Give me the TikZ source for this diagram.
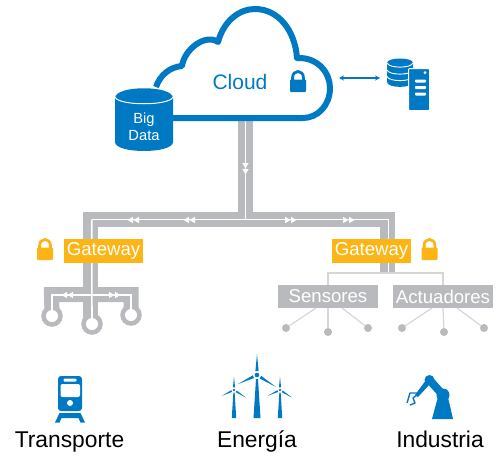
\documentclass[tikz,border=0pt]{standalone}
\usepackage{fontspec}
\setmainfont{Liberation Sans}
\usetikzlibrary{arrows.meta}
\definecolor{cblue}{HTML}{0079C5}
\definecolor{cgray}{HTML}{B9BABD}
\definecolor{cyell}{HTML}{FDB515}
\definecolor{cthin}{HTML}{D6D6D7}
\newcommand{\fs}[1]{\fontsize{#1}{#1}\selectfont}
\newcommand{\lockicon}[2]{%
  \begin{scope}[shift={(#1,#2)}]
    \draw[cs lock] (2.6,10) -- (2.6,7.5) .. controls (2.6,-0.5) and (13.4,-0.5) .. (13.4,7.5) -- (13.4,10);
    \fill[rounded corners=0.8pt] (0,9.5) rectangle (16,22);
  \end{scope}}
\newcommand{\railarrow}[3]{% x, y, direction: 1 right, -1 left
  \begin{scope}[shift={(#1,#2)},xscale=#3]
    \fill[white] (-6,-3.2) -- (-.5,0) -- (-6,3.2) -- cycle;
    \fill[white] (0,-3.2) -- (5.5,0) -- (0,3.2) -- cycle;
  \end{scope}}
\newcommand{\turbine}[4]{% x, y, scale, tower bottom
  \begin{scope}[shift={(#1,#2)},scale=#3,fill=cblue]
    \fill (0,0) circle (2.3);
    \fill (-1.6,-4) -- (0,-21) -- (1.6,-4) -- cycle;
    \fill (-3,3) -- (-19,9) -- (-4.3,.35) -- cycle;
    \fill (2.6,3.4) -- (19,12) -- (4.2,.83) -- cycle;
    \fill (-1,4) -- (-3.5,#4) -- (3.5,#4) -- (1,4) -- cycle;
  \end{scope}}
\tikzset{
  x=1pt,y=-1pt,
  cs lock/.style={line width=2.8pt},
  rail/.style={draw=cgray,line width=15pt,line join=miter},
  wire/.style={draw=white,line width=1.6pt},
  gate/.style={fill=cyell,text=white,inner sep=0pt,minimum width=79pt,minimum height=24pt,font=\fs{18.6}},
  devbox/.style={fill=cgray,text=white,inner sep=0pt,minimum width=100pt,minimum height=23pt,font=\fs{18.6}},
  thin/.style={draw=cthin,line width=1.2pt},
  dot/.style={circle,fill=cgray,inner sep=0pt,minimum size=8pt},
  term/.style={circle,draw=cgray,fill=white,line width=5pt,inner sep=0pt,minimum size=16.5pt},
  lbl/.style={text=black,inner sep=0pt,anchor=base,font=\fs{22.8}},
}
\begin{document}
\begin{tikzpicture}
\useasboundingbox (0,0) rectangle (500,460);
% named points of the bus
\coordinate (top) at (245.5,118);
\coordinate (hub) at (245.5,219.5);
\coordinate (gl) at (90,219.5);
\coordinate (gr) at (387.5,219.5);
\coordinate (gre) at (387.5,273);
\coordinate (bus) at (90,294.5);
\coordinate (busl) at (51.5,294.5);
\coordinate (busr) at (131,294.5);
\coordinate (t1c) at (52,316);
\coordinate (t2c) at (92,324);
\coordinate (t3c) at (131,315);
% gray rails
\draw[rail] (top) -- (hub);
\draw[rail] (t1c) -- (busl) -- (busr) -- (t3c);
\draw[rail] (t2c -| bus) -- (gl) -- (gr) -- (gre);
\node[term] (t1) at (t1c) {};
\node[term] (t2) at (t2c) {};
\node[term] (t3) at (t3c) {};
% white lines
\draw[wire] (top) -- (hub);
\draw[wire] (91.7,219.5) -- (388.5,219.5) -- (388.5,273);
\draw[wire] (91.7,219.5) -- (t2.center);
\draw[wire] (t1.center) -- (52,295) -- (131,295) -- (t3.center);
\fill[white] (t1c) circle (6);
\fill[white] (t2c) circle (6);
\fill[white] (t3c) circle (6);
\railarrow{133}{220}{-1}
\railarrow{189}{220}{-1}
\railarrow{291}{220}{1}
\railarrow{349}{220}{1}
\railarrow{67}{295}{-1}
\railarrow{115}{295}{1}
\begin{scope}[shift={(245.5,169)},rotate=-90]
  \railarrow{0}{0}{1}
\end{scope}
% devices
\node[devbox] (sens) at (328,296.5) {Sensores};
\node[devbox] (act) at (443,296.5) {Actuadores};
\node[gate] (gwl) at (103.5,251) {Gateway};
\node[gate] (gwr) at (371.5,250.5) {Gateway};
\draw[thin] (sens.north) -- (sens.north |- gre) -- (act.north |- gre) -- (act.north);
\node[dot] (s1) at (286,328) {};
\node[dot] (s2) at (328,332) {};
\node[dot] (s3) at (368,328) {};
\node[dot] (a1) at (402,328) {};
\node[dot] (a2) at (444,332) {};
\node[dot] (a3) at (484,328) {};
\draw[thin] (316,308) -- (s1);
\draw[thin] (sens.south) -- (s2);
\draw[thin] (342,308) -- (s3);
\draw[thin] (432,308) -- (a1);
\draw[thin] (act.south) -- (a2);
\draw[thin] (457,308) -- (a3);
% locks
\begin{scope}[fill=cyell,draw=cyell]
  \lockicon{37}{238}
  \lockicon{421.5}{238}
\end{scope}
\begin{scope}[fill=cblue,draw=cblue]
  \lockicon{290}{70}
\end{scope}
% cloud
\draw[cblue,line width=6pt,line join=round]
  (156,87) .. controls (160,75) and (170,67) .. (182,66)
  .. controls (184,50) and (205,33) .. (218,42)
  .. controls (224,20) and (240,9) .. (255,9)
  .. controls (278,9) and (295,30) .. (297,58)
  .. controls (318,57) and (330,73) .. (330,88)
  .. controls (330,105) and (318,118) .. (303,118) -- (170,118);
\node[text=cblue,inner sep=0pt,font=\fs{21}] (cloud) at (240,82) {Cloud};
% big data
\fill[cblue] (115,98) .. controls (115,85) and (173,85) .. (173,98) -- (173,142)
  .. controls (173,154) and (115,154) .. (115,142) -- cycle;
\draw[white,line width=1pt] (115,97) .. controls (118,106) and (170,106) .. (173,97);
\node[text=white,align=center,inner sep=0pt,font=\fs{14.7}] (bd) at (144,127) {Big\\[2.5pt]Data};
% link to the server
\coordinate (la) at (339,78);
\coordinate (lb) at (380,78);
\draw[cblue,line width=1.1pt,{Stealth[length=5pt,width=5pt]}-{Stealth[length=5pt,width=5pt]}] (la) -- (lb);
% database and server
\fill[cblue] (387,63) .. controls (387,57) and (413,57) .. (413,63) -- (413,82)
  .. controls (413,88.5) and (387,88.5) .. (387,82) -- cycle;
\draw[white,line width=.9pt] (387,63) .. controls (389,68.5) and (411,68.5) .. (413,63);
\draw[white,line width=.9pt] (387,70) .. controls (389,75.5) and (411,75.5) .. (413,70);
\draw[white,line width=.9pt] (387,76.5) .. controls (389,82) and (411,82) .. (413,76.5);
\fill[cblue,draw=white,line width=1pt,rounded corners=1pt] (408.5,68.5) rectangle (429.5,110.5);
\fill[white,rounded corners=.8pt] (415,79.5) rectangle (426,82.5);
\fill[white,rounded corners=.8pt] (415,86) rectangle (426,89);
\fill[white,rounded corners=.8pt] (415,92.5) rectangle (426,95.5);
\fill[white] (425,72.7) circle (1.5);
% train
\fill[cblue,rounded corners=3pt] (58,376) rectangle (82,411);
\fill[white,rounded corners=2pt] (60.5,384) rectangle (80,397);
\fill[white,rounded corners=1pt] (63.5,378.5) rectangle (76.5,381.5);
\fill[white] (70,403) circle (3);
\fill[cblue] (59.5,413) -- (80.5,413) -- (85,422.5) -- (80.5,422.5) -- (78.5,418) -- (61.5,418) -- (59.5,422.5) -- (55,422.5) -- cycle;
% turbines
\turbine{234}{390}{.64}{44}
\turbine{280}{390}{.64}{44}
\turbine{257}{375}{1}{43}
% robot
\fill[cblue] (432,419) -- (453,419) -- (447,393) -- (439,393) -- cycle;
\fill[cblue] (443,395) circle (6.5);
\fill[cblue] (429.5,380) circle (5);
\draw[cblue,line width=8pt] (429.5,380) -- (443,395);
\fill[cblue] (426,380) -- (431,383) -- (418,397) -- (415,395) -- cycle;
\draw[cblue,line width=1.4pt,line join=round] (417,393) -- (410,393) -- (407,403);
\draw[cblue,line width=1.4pt,line join=round] (418,394) -- (413,398) -- (415,403) -- (410,405);
% labels
\node[lbl] (tr) at (69.5,447) {Transporte};
\node[lbl] (en) at (257,447) {Energía};
\node[lbl] (in) at (440,447) {Industria};
\end{tikzpicture}
\end{document}
